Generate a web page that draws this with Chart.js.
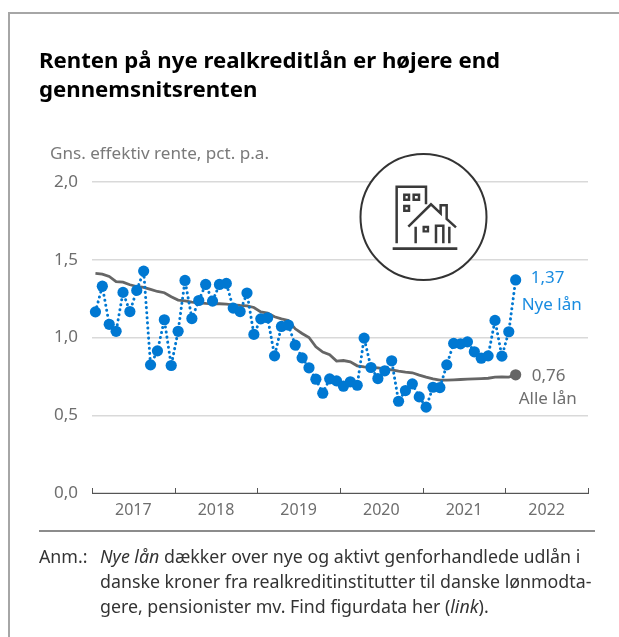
<!DOCTYPE html>
<html lang="da">
<head>
<meta charset="utf-8">
<title>Renten på nye realkreditlån</title>
<script src="https://cdn.jsdelivr.net/npm/chart.js@4"></script>
<style>
  html, body { margin: 0; padding: 0; background: #fff; }
  body { width: 619px; height: 637px; overflow: hidden; position: relative; font-family: "Noto Sans", sans-serif; }
  #frame { position: absolute; left: 8px; top: 12px; width: 620px; height: 640px; border: 2px solid #a6a6a6; box-sizing: border-box; }
  #wrap { position: absolute; left: 0; top: 0; width: 619px; height: 637px; }
  h1 { position: absolute; left: 39px; top: 45px; margin: 0; font-size: 22.2px; line-height: 29px; font-weight: 700; color: #000; white-space: nowrap; }
  #unit { position: absolute; left: 50px; top: 143px; font-size: 17.1px; line-height: 20px; color: #7a7a7a; white-space: nowrap; }
  #rule { position: absolute; left: 39px; top: 530px; width: 556px; height: 2px; background: #8c8c8c; }
  #note-head, #note { position: absolute; top: 544px; font-size: 17.8px; line-height: 25px; color: #333; white-space: nowrap; }
  #note-head { left: 39px; }
  #note { left: 100px; }
  #icon { position: absolute; left: 0; top: 0; }
</style>
</head>
<body>
<div id="frame"></div>
<div id="wrap"><canvas id="graphique" width="619" height="637"></canvas></div>
<h1>Renten på nye realkreditlån er højere end<br>gennemsnitsrenten</h1>
<div id="unit">Gns. effektiv rente, pct. p.a.</div>
<svg id="icon" width="619" height="637">
  <circle cx="423.5" cy="217" r="63" fill="#fff" stroke="#333" stroke-width="2"></circle>
  <g transform="translate(350 145) scale(0.3333)" fill="none" stroke="#3a3a3a" stroke-width="7.5">
    <path d="M140 295V125H228V178"></path>
    <path d="M163 149h14v15h-14zM191 149h16v15h-16zM163 183h14v14h-14z" stroke-width="7.5"></path>
    <path d="M175 245L243 178L272 205V181H290V222L318 247"></path>
    <path d="M197 245V295M298 245V295M258 295V242H280V295"></path>
    <path d="M221 246h13v13h-13z" stroke-width="7"></path>
    <path d="M128 311H322" stroke-width="8"></path>
  </g>
</svg>
<div id="rule"></div>
<div id="note-head">Anm.:</div>
<div id="note"><i>Nye lån</i> dækker over nye og aktivt genforhandlede udlån i<br>danske kroner fra realkreditinstitutter til danske lønmodta-<br>gere, pensionister mv. Find figurdata her (<i>link</i>).</div>

<script>
const aar = ["2017", "2018", "2019", "2020", "2021", "2022"];
const maaneder = aar.flatMap(a => Array.from({ length: 12 }, (_, m) => a + "-" + (m + 1)));
const yTicks = [0, 0.5, 1, 1.5, 2];

const nyeLaan = [
  1.165, 1.33, 1.085, 1.04, 1.29, 1.167, 1.303, 1.427, 0.824, 0.914, 1.114, 0.82,
  1.04, 1.367, 1.122, 1.238, 1.341, 1.234, 1.341, 1.348, 1.189, 1.167, 1.286, 1.02,
  1.12, 1.127, 0.882, 1.071, 1.08, 0.951, 0.869, 0.805, 0.732, 0.642, 0.734, 0.721,
  0.687, 0.715, 0.693, 0.996, 0.807, 0.736, 0.786, 0.85, 0.59, 0.659, 0.702, 0.618,
  0.552, 0.68, 0.678, 0.824, 0.962, 0.959, 0.972, 0.908, 0.867, 0.882, 1.11, 0.88,
  1.037, 1.37
];
const alleLaan = [
  1.412, 1.408, 1.393, 1.36, 1.356, 1.339, 1.328, 1.322, 1.309, 1.296, 1.288, 1.262,
  1.241, 1.236, 1.228, 1.223, 1.219, 1.217, 1.217, 1.215, 1.21, 1.206, 1.204, 1.193,
  1.164, 1.157, 1.133, 1.12, 1.11, 1.056, 1.026, 1.0, 0.94, 0.906, 0.889, 0.848,
  0.852, 0.844, 0.818, 0.811, 0.807, 0.805, 0.798, 0.792, 0.783, 0.777, 0.773, 0.758,
  0.745, 0.734, 0.726, 0.726, 0.728, 0.73, 0.732, 0.734, 0.736, 0.738, 0.745, 0.747,
  0.745, 0.76
];

const BLAA = "#0078d2";
const BLAA_TEKST = "#1a8ce0";
const GRAA = "#6e6e6e";
const komma = v => v.toFixed(2).replace(".", ",");

// aarstal-streger op fra aksen, og teksterne ved seriernes slutpunkter
const ekstra = {
  id: "ekstra",
  afterDraw(chart) {
    const ctx = chart.ctx;
    const x = chart.scales.x;
    const bund = chart.chartArea.bottom;
    const halv = (x.getPixelForValue(1) - x.getPixelForValue(0)) / 2;
    ctx.save();
    ctx.strokeStyle = "#555";
    ctx.lineWidth = 1;
    for (let i = 0; i <= aar.length; i++) {
      const px = Math.round(x.getPixelForValue(i * 12) - halv) + 0.5;
      ctx.beginPath();
      ctx.moveTo(px, bund);
      ctx.lineTo(px, bund - 5);
      ctx.stroke();
    }
    ctx.font = '17px "Noto Sans"';
    ctx.textBaseline = "middle";
    ctx.textAlign = "center";
    const ny = chart.getDatasetMeta(0).data[nyeLaan.length - 1];
    const alle = chart.getDatasetMeta(1).data[alleLaan.length - 1];
    ctx.fillStyle = BLAA_TEKST;
    ctx.fillText(komma(nyeLaan[nyeLaan.length - 1]), ny.x + 32, ny.y - 2);
    ctx.fillText("Nye lån", ny.x + 36, ny.y + 25);
    ctx.fillStyle = GRAA;
    ctx.fillText(komma(alleLaan[alleLaan.length - 1]), alle.x + 33, alle.y + 1);
    ctx.fillText("Alle lån", alle.x + 32, alle.y + 24);
    ctx.restore();
  }
};

new Chart(document.getElementById("graphique").getContext("2d"), {
  type: "line",
  plugins: [ekstra],
  data: {
    labels: maaneder,
    datasets: [
      {
        label: "Nye lån",
        data: nyeLaan,
        borderColor: BLAA,
        backgroundColor: BLAA,
        borderWidth: 3,
        borderDash: [0.1, 5],
        borderCapStyle: "round",
        pointRadius: 5.6,
        pointBackgroundColor: BLAA,
        pointBorderWidth: 0,
        tension: 0
      },
      {
        label: "Alle lån",
        data: alleLaan,
        borderColor: "#666666",
        borderWidth: 2.8,
        pointRadius: c => (c.dataIndex === alleLaan.length - 1 ? 5.6 : 0),
        pointBackgroundColor: "#666666",
        pointBorderWidth: 0,
        tension: 0
      }
    ]
  },
  options: {
    responsive: false,
    animation: false,
    layout: { padding: { top: 182, right: 31, left: 0, bottom: 0 } },
    plugins: { legend: { display: false }, tooltip: { enabled: false }, title: { display: false } },
    scales: {
      x: {
        type: "category",
        offset: true,
        afterFit(s) { s.height = 144; },
        grid: { display: false, drawTicks: false },
        border: { display: true, color: "#555", width: 1 },
        ticks: {
          autoSkip: false,
          maxRotation: 0,
          padding: 8,
          labelOffset: 3.45,
          color: GRAA,
          font: { family: '"Noto Sans"', size: 16 },
          callback(v, i) { return i % 12 === 5 ? aar[Math.floor(i / 12)] : null; }
        }
      },
      y: {
        min: 0,
        max: 2,
        afterFit(s) { s.width = 92; },
        afterBuildTicks(s) { s.ticks = yTicks.map(v => ({ value: v })); },
        grid: { color: "#d9d9d9", lineWidth: 1.5, drawTicks: false },
        border: { display: false },
        ticks: {
          padding: 14,
          color: GRAA,
          font: { family: '"Noto Sans"', size: 17 },
          callback: v => v.toFixed(1).replace(".", ",")
        }
      }
    }
  }
});
</script>
</body>
</html>
